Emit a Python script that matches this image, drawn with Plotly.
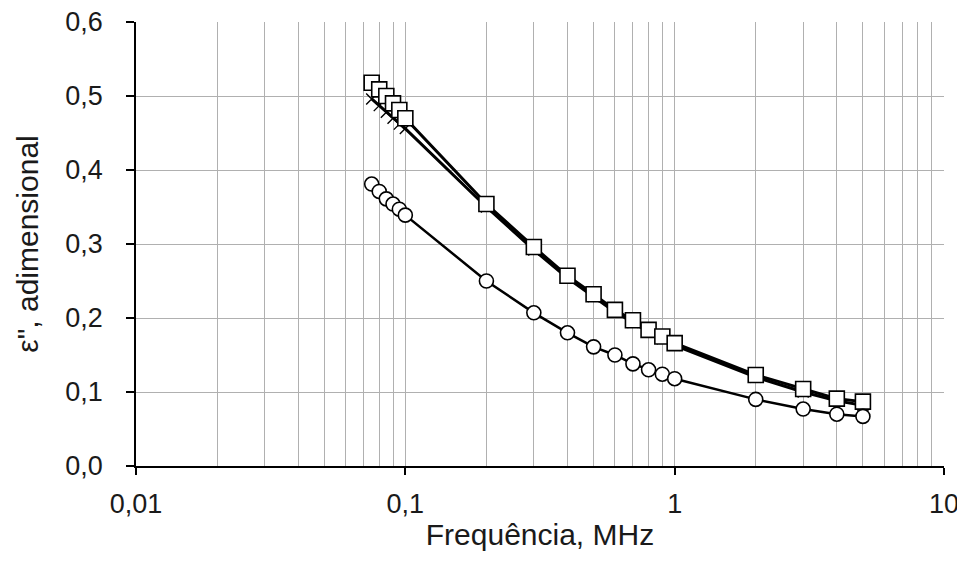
import plotly.graph_objects as go

freq = [0.075, 0.08, 0.085, 0.09, 0.095, 0.1, 0.2, 0.3, 0.4, 0.5, 0.6, 0.7, 0.8, 0.9, 1.0, 2.0, 3.0, 4.0, 5.0]
eps_square = [0.518, 0.509, 0.500, 0.490, 0.481, 0.470, 0.354, 0.296, 0.257, 0.232, 0.211, 0.197, 0.184, 0.175, 0.166, 0.123, 0.104, 0.091, 0.087]
eps_cross = [0.496, 0.487, 0.478, 0.470, 0.462, 0.456, 0.350, 0.292, 0.254, 0.229, 0.208, 0.194, 0.181, 0.172, 0.163, 0.120, 0.100, 0.088, 0.082]
eps_circle = [0.381, 0.371, 0.361, 0.354, 0.347, 0.339, 0.250, 0.207, 0.180, 0.161, 0.150, 0.138, 0.130, 0.124, 0.118, 0.090, 0.077, 0.070, 0.067]

x_tickvals = [0.01, 0.1, 1, 10]
x_ticktext = ["0,01", "0,1", "1", "10"]
y_tickvals = [0.0, 0.1, 0.2, 0.3, 0.4, 0.5, 0.6]
y_ticktext = ["0,0", "0,1", "0,2", "0,3", "0,4", "0,5", "0,6"]
x_minor = [m * 10 ** e for e in (-2, -1, 0) for m in range(2, 10)]

fig = go.Figure()
fig.add_trace(go.Scatter(
    x=freq, y=eps_cross, mode="lines+markers",
    line=dict(color="black", width=3),
    marker=dict(symbol="x-thin", size=11, color="white", line=dict(color="black", width=1.4)),
    showlegend=False))
fig.add_trace(go.Scatter(
    x=freq, y=eps_square, mode="lines+markers",
    line=dict(color="black", width=3),
    marker=dict(symbol="square", size=15, color="white", line=dict(color="black", width=1.6)),
    showlegend=False))
fig.add_trace(go.Scatter(
    x=freq, y=eps_circle, mode="lines+markers",
    line=dict(color="black", width=2.5),
    marker=dict(symbol="circle", size=14, color="white", line=dict(color="black", width=1.6)),
    showlegend=False))

font_family = "Liberation Sans, Arial, sans-serif"
grid_col = "#b0b0b0"
fig.update_layout(
    width=957, height=549,
    margin=dict(l=128, r=21, t=14, b=91),
    paper_bgcolor="white", plot_bgcolor="white",
    font=dict(family=font_family, size=27, color="#1a1a1a"),
    separators=",.",
    xaxis=dict(
        type="log", range=[-2, 1],
        tickvals=x_tickvals, ticktext=x_ticktext,
        ticks="outside", ticklen=7, tickcolor="black", tickwidth=1.5,
        ticklabelstandoff=6, ticklabeloverflow="allow", automargin=False,
        showline=True, linecolor="black", linewidth=1.5,
        showgrid=True, gridcolor=grid_col, gridwidth=1,
        minor=dict(tickvals=x_minor, showgrid=True, gridcolor=grid_col, gridwidth=1, ticks=""),
        zeroline=False,
        title=dict(text="Frequência, MHz", font=dict(size=30), standoff=6),
        tickfont=dict(size=27),
    ),
    yaxis=dict(
        range=[0, 0.6],
        tickvals=y_tickvals, ticktext=y_ticktext,
        ticks="outside", ticklen=8, tickcolor="black", tickwidth=1.5,
        ticklabelstandoff=18, ticklabeloverflow="allow", automargin=False,
        showline=True, linecolor="black", linewidth=1.5,
        showgrid=True, gridcolor=grid_col, gridwidth=1,
        zeroline=False,
        title=dict(text="ε\", adimensional", font=dict(size=30), standoff=18),
        tickfont=dict(size=27),
    ),
)

fig.write_html("out.html")
